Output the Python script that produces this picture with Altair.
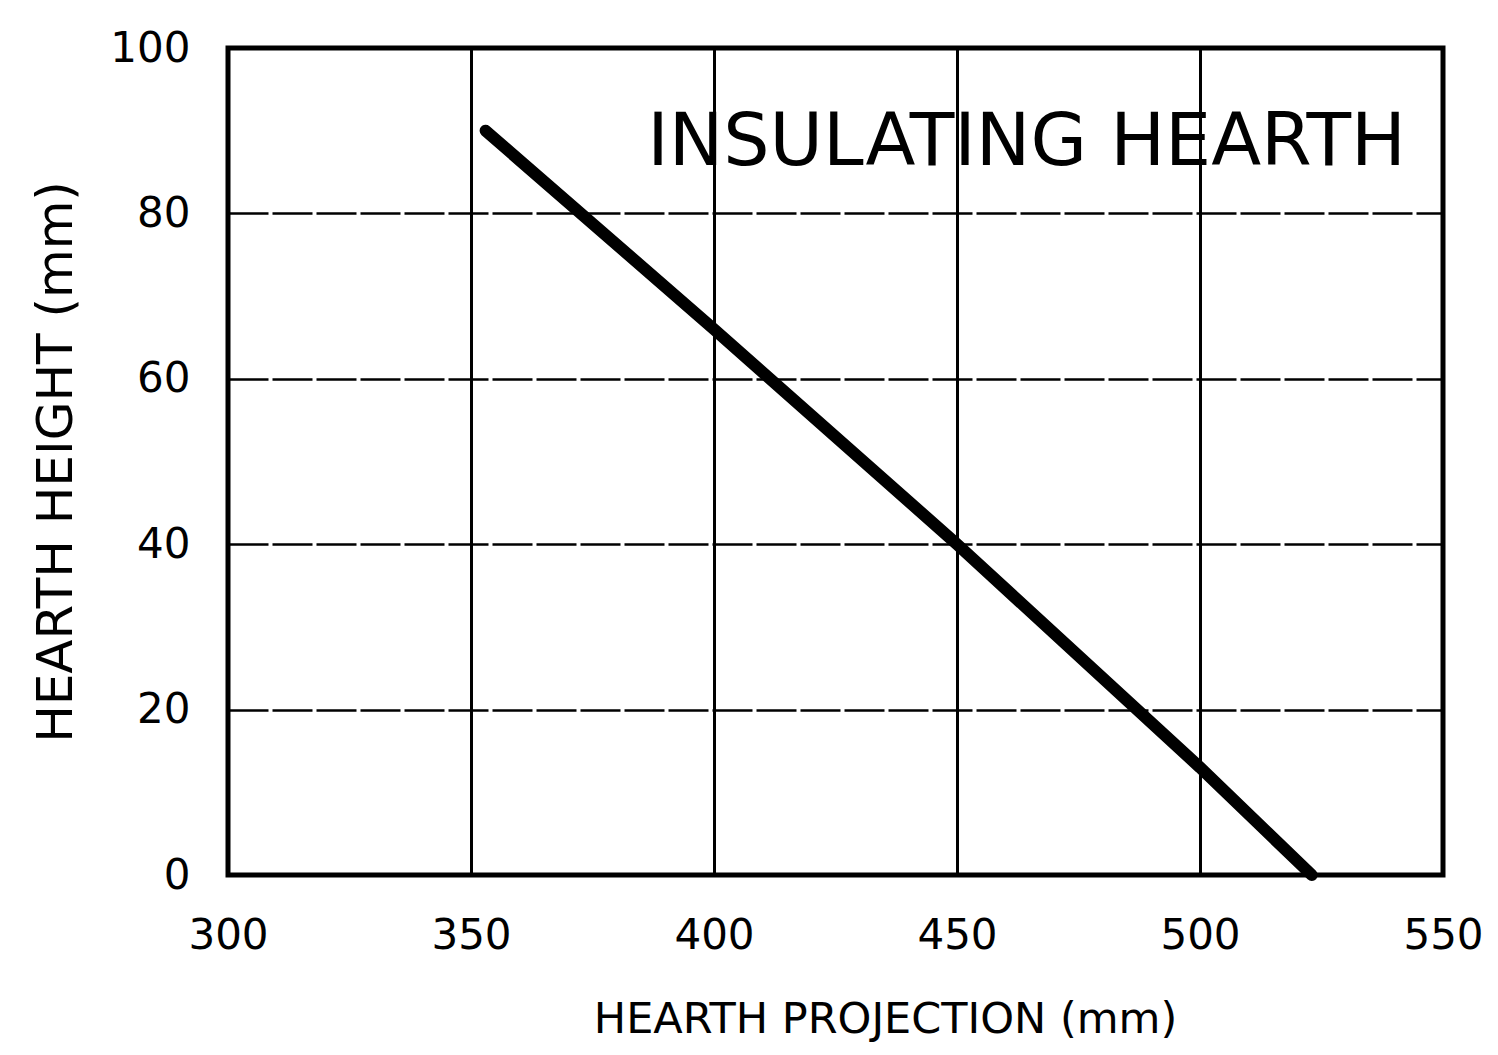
import altair as alt
import pandas as pd

# Data
projection_mm = [353, 400, 450, 500, 523]
height_mm = [90, 66, 40, 13, 0]
x_ticks = [300, 350, 400, 450, 500, 550]
y_ticks = [0, 20, 40, 60, 80, 100]
label_text = "INSULATING HEARTH"

df = pd.DataFrame({"x": projection_mm, "y": height_mm})

FONT = "DejaVu Sans"

x_enc = alt.X(
    "x:Q",
    scale=alt.Scale(domain=[300, 550], nice=False, zero=False),
    axis=alt.Axis(
        values=x_ticks, title="HEARTH PROJECTION (mm)", grid=True,
        gridColor="black", gridWidth=3, gridOpacity=1,
        domain=False, ticks=False, labelFontSize=42, labelPadding=40,
        labelFlush=False, labelBound=False, labelOverlap=False,
        labelFont=FONT, labelColor="black", titleFont=FONT, titleFontSize=43,
        titleFontWeight="normal", titleColor="black", titlePadding=42,
        titleX=657,
    ),
)
y_enc = alt.Y(
    "y:Q",
    scale=alt.Scale(domain=[0, 100], nice=False),
    axis=alt.Axis(
        values=y_ticks, title="HEARTH HEIGHT (mm)", grid=True,
        gridColor="black", gridWidth=2.5, gridOpacity=1, gridDash=[40, 4],
        domain=False, ticks=False, labelFontSize=42, labelPadding=38,
        labelFlush=False, labelBound=False, labelOverlap=False,
        labelFont=FONT, labelColor="black", titleFont=FONT, titleFontSize=50,
        titleFontWeight="normal", titleColor="black", titlePadding=28,
    ),
)

line = alt.Chart(df).mark_line(color="black", strokeWidth=12, strokeCap="round").encode(
    x=x_enc, y=y_enc
)

text = alt.Chart(pd.DataFrame({"t": [label_text]})).mark_text(
    align="right", baseline="middle", fontSize=73, font=FONT, color="black"
).encode(text="t:N", x=alt.value(1178), y=alt.value(95))

chart = (
    alt.layer(line, text)
    .properties(
        width=1215, height=827,
        autosize=alt.AutoSizeParams(type="none"),
        padding={"left": 220, "top": 40, "right": 40, "bottom": 170},
        background="white",
    )
    .configure_view(stroke="black", strokeWidth=5)
)

chart.save("out.html", embed_options={"renderer": "svg", "actions": False})
